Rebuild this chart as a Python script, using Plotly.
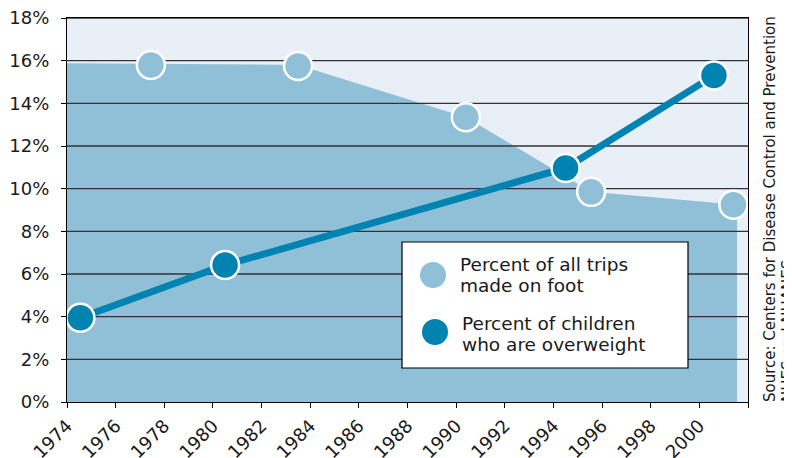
import plotly.graph_objects as go

# ---- data ----
walk_years = [1977.45, 1983.5, 1990.4, 1995.55, 2001.4]
walk_values = [15.8, 15.75, 13.35, 9.85, 9.25]

area_years = [1974, 1977.45, 1983.5, 1990.4, 1995.55, 2001.55]
area_values = [15.88, 15.85, 15.8, 13.35, 9.85, 9.25]

over_years = [1974.55, 1980.5, 1994.5, 2000.6]
over_values = [3.95, 6.42, 10.97, 15.3]

y_ticks = [0, 2, 4, 6, 8, 10, 12, 14, 16, 18]
x_ticks = [1974, 1976, 1978, 1980, 1982, 1984, 1986, 1988, 1990, 1992, 1994, 1996, 1998, 2000, 2002]
x_labels = ["1974", "1976", "1978", "1980", "1982", "1984", "1986", "1988", "1990", "1992",
            "1994", "1996", "1998", "2000", ""]

legend_labels = [["Percent of all trips", "made on foot"],
                 ["Percent of children", "who are overweight"]]
source_lines = ["Source: Centers for Disease Control and Prevention", "NHES and NHANES"]

# ---- style ----
LIGHT = "#8fc0d7"
DARK = "#0083b1"
BG = "#e8eff6"
FONT = "DejaVu Sans"

OFF = 8  # page body margin
W, H = 792 - OFF, 458 - OFF
ML, MR, MT, MB = 67 - OFF, 44, 18 - OFF, 56
PW, PH = W - ML - MR, H - MT - MB


def px(x):
    return (x - OFF - ML) / PW


def py(y):
    return (H - MB - (y - OFF)) / PH


fig = go.Figure()

# area of walking trips
fig.add_trace(go.Scatter(x=area_years, y=area_values, mode="lines", fill="tozeroy",
                         fillcolor=LIGHT, line=dict(width=0, color=LIGHT),
                         hoverinfo="skip", showlegend=False))

# gridlines above the area
gx, gy = [], []
for t in y_ticks[1:]:
    gx += [x_ticks[0], x_ticks[-1], None]
    gy += [t, t, None]
fig.add_trace(go.Scatter(x=gx, y=gy, mode="lines", line=dict(color="#333333", width=1.3),
                         hoverinfo="skip", showlegend=False))

# walking markers
fig.add_trace(go.Scatter(x=walk_years, y=walk_values, mode="markers",
                         marker=dict(size=28, color=LIGHT, line=dict(color="white", width=2.5)),
                         showlegend=False))

# overweight line
fig.add_trace(go.Scatter(x=over_years, y=over_values, mode="lines+markers",
                         line=dict(color=DARK, width=7),
                         marker=dict(size=28, color=DARK, line=dict(color="white", width=2.5)),
                         showlegend=False))

shapes = []
annotations = []

# legend box
shapes.append(dict(type="rect", xref="paper", yref="paper",
                   x0=px(402), x1=px(688), y0=py(368), y1=py(242),
                   fillcolor="white", line=dict(color="black", width=1.2), layer="above"))
for (cx, cy, col) in [(433, 275, LIGHT), (435, 332, DARK)]:
    shapes.append(dict(type="circle", xref="paper", yref="paper",
                       xsizemode="pixel", ysizemode="pixel",
                       xanchor=px(cx), yanchor=py(cy),
                       x0=-13, x1=13, y0=-13, y1=13,
                       fillcolor=col, line=dict(width=0), layer="above"))

line_pos = [[(458, 264), (458, 285)], [(460, 323), (460, 344)]]
for labels, poss in zip(legend_labels, line_pos):
    for lab, (lx, ly) in zip(labels, poss):
        annotations.append(dict(text=lab, xref="paper", yref="paper", x=px(lx), y=py(ly),
                                xanchor="left", yanchor="middle", showarrow=False,
                                font=dict(family=FONT, size=18.5, color="#1a1a1a")))

for lab, cx in zip(source_lines, [770, 788]):
    annotations.append(dict(text=lab, xref="paper", yref="paper",
                            x=px(cx), y=py(404), xanchor="center", yanchor="bottom",
                            textangle=-90, showarrow=False,
                            font=dict(family=FONT, size=15, color="#1a1a1a")))

fig.update_layout(
    width=W, height=H,
    margin=dict(l=ML, r=MR, t=MT, b=MB, pad=0, autoexpand=False),
    paper_bgcolor="white", plot_bgcolor=BG,
    shapes=shapes, annotations=annotations,
    showlegend=False,
    font=dict(family=FONT, size=18, color="#1a1a1a"),
)
fig.update_xaxes(range=[x_ticks[0], x_ticks[-1]], tickmode="array", tickvals=x_ticks, ticktext=x_labels,
                 tickangle=-45, ticks="outside", ticklen=5, tickcolor="black", tickwidth=1,
                 showgrid=False, zeroline=False, showline=True, linecolor="black", linewidth=1.3,
                 mirror=True, automargin=False, ticklabeloverflow="allow",
                 tickfont=dict(family=FONT, size=18))
fig.update_yaxes(range=[y_ticks[0], y_ticks[-1]], tickmode="array", tickvals=y_ticks,
                 ticktext=[f"{v}%" for v in y_ticks],
                 ticks="outside", ticklen=5, tickcolor="black", tickwidth=1,
                 showgrid=False, zeroline=False, showline=True, linecolor="black", linewidth=1.3,
                 mirror=True, automargin=False, ticklabeloverflow="allow", ticklabelstandoff=8,
                 tickfont=dict(family=FONT, size=18))

fig.write_html("out.html")
